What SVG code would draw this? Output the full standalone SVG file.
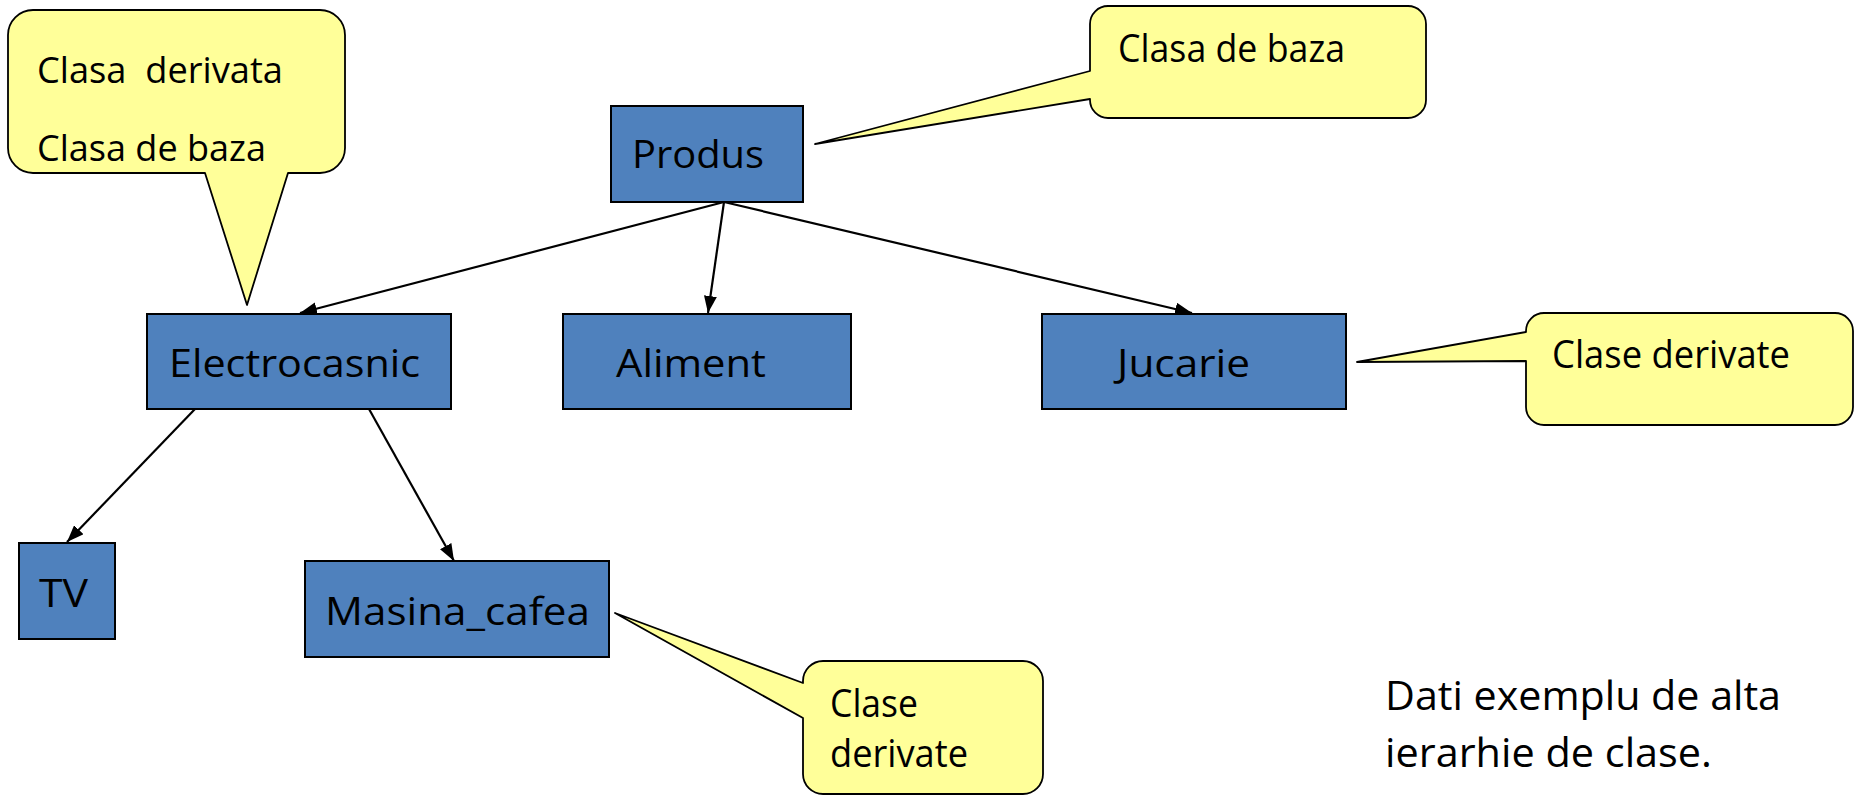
<svg xmlns="http://www.w3.org/2000/svg" width="1855" height="796" viewBox="0 0 1855 796">
<style>
.node{fill:#4F81BD;stroke:#000;stroke-width:2}
.call{fill:#FFFF99;stroke:#000;stroke-width:1.8;stroke-linejoin:round}
text{font-family:"Open Sans","Noto Sans","Liberation Sans",sans-serif;fill:#000}
.t{font-size:39px}
.s{font-size:36px}
.b{font-size:40px}
.conn line{stroke:#000;stroke-width:2.2;marker-end:url(#ah)}
</style>
<defs>
<marker id="ah" markerUnits="userSpaceOnUse" markerWidth="17" markerHeight="13" viewBox="0 0 17 13" refX="17" refY="6.5" orient="auto">
<path d="M0,0 L17,6.5 L0,13 Z" fill="#000"/>
</marker>
</defs>
<g id="connectors" class="conn">
<line x1="724" y1="202" x2="300" y2="313"/>
<line x1="724" y1="202" x2="708" y2="313"/>
<line x1="724" y1="202" x2="1192" y2="313"/>
<line x1="195" y1="409" x2="67" y2="542"/>
<line x1="369" y1="409" x2="454" y2="561"/>
</g>
<g id="node-produs"><rect class="node" x="611" y="106" width="192" height="96"/><text class="t" x="632" y="168" textLength="132" lengthAdjust="spacingAndGlyphs">Produs</text></g>
<g id="node-electrocasnic"><rect class="node" x="147" y="314" width="304" height="95"/><text class="t" x="169" y="377" textLength="251" lengthAdjust="spacingAndGlyphs">Electrocasnic</text></g>
<g id="node-aliment"><rect class="node" x="563" y="314" width="288" height="95"/><text class="t" x="616" y="377" textLength="150" lengthAdjust="spacingAndGlyphs">Aliment</text></g>
<g id="node-jucarie"><rect class="node" x="1042" y="314" width="304" height="95"/><text class="t" x="1117" y="377" textLength="133" lengthAdjust="spacingAndGlyphs">Jucarie</text></g>
<g id="node-tv"><rect class="node" x="19" y="543" width="96" height="96"/><text class="t" x="39" y="607" textLength="49" lengthAdjust="spacingAndGlyphs">TV</text></g>
<g id="node-masina"><rect class="node" x="305" y="561" width="304" height="96"/><text class="t" x="325" y="625" textLength="265" lengthAdjust="spacingAndGlyphs">Masina_cafea</text></g>
<g id="callout-electro">
<path class="call" d="M33,10 H320 A25,25 0 0 1 345,35 V148 A25,25 0 0 1 320,173 H288 L247,305 L205,173 H33 A25,25 0 0 1 8,148 V35 A25,25 0 0 1 33,10 Z"/>
<text class="s" x="37" y="83" textLength="246" lengthAdjust="spacingAndGlyphs" xml:space="preserve">Clasa  derivata</text>
<text class="s" x="37" y="161" textLength="229" lengthAdjust="spacingAndGlyphs">Clasa de baza</text>
</g>
<g id="callout-produs">
<path class="call" d="M1108,6 H1408 A18,18 0 0 1 1426,24 V100 A18,18 0 0 1 1408,118 H1108 A18,18 0 0 1 1090,100 V99 L815,144 L1090,71 V24 A18,18 0 0 1 1108,6 Z"/>
<text class="t" x="1118" y="62" textLength="227" lengthAdjust="spacingAndGlyphs">Clasa de baza</text>
</g>
<g id="callout-jucarie">
<path class="call" d="M1544,313 H1835 A18,18 0 0 1 1853,331 V407 A18,18 0 0 1 1835,425 H1544 A18,18 0 0 1 1526,407 V361 L1357,362 L1526,332 V331 A18,18 0 0 1 1544,313 Z"/>
<text class="t" x="1552" y="368" textLength="238" lengthAdjust="spacingAndGlyphs">Clase derivate</text>
</g>
<g id="callout-masina">
<path class="call" d="M823,661 H1023 A20,20 0 0 1 1043,681 V774 A20,20 0 0 1 1023,794 H823 A20,20 0 0 1 803,774 V718 L615,613 L803,683 V681 A20,20 0 0 1 823,661 Z"/>
<text class="t" x="830" y="717" textLength="88" lengthAdjust="spacingAndGlyphs">Clase</text>
<text class="t" x="830" y="767" textLength="138" lengthAdjust="spacingAndGlyphs">derivate</text>
</g>
<g id="note">
<text class="b" x="1385" y="710" textLength="396" lengthAdjust="spacingAndGlyphs">Dati exemplu de alta</text>
<text class="b" x="1385" y="767" textLength="327" lengthAdjust="spacingAndGlyphs">ierarhie de clase.</text>
</g>
</svg>
